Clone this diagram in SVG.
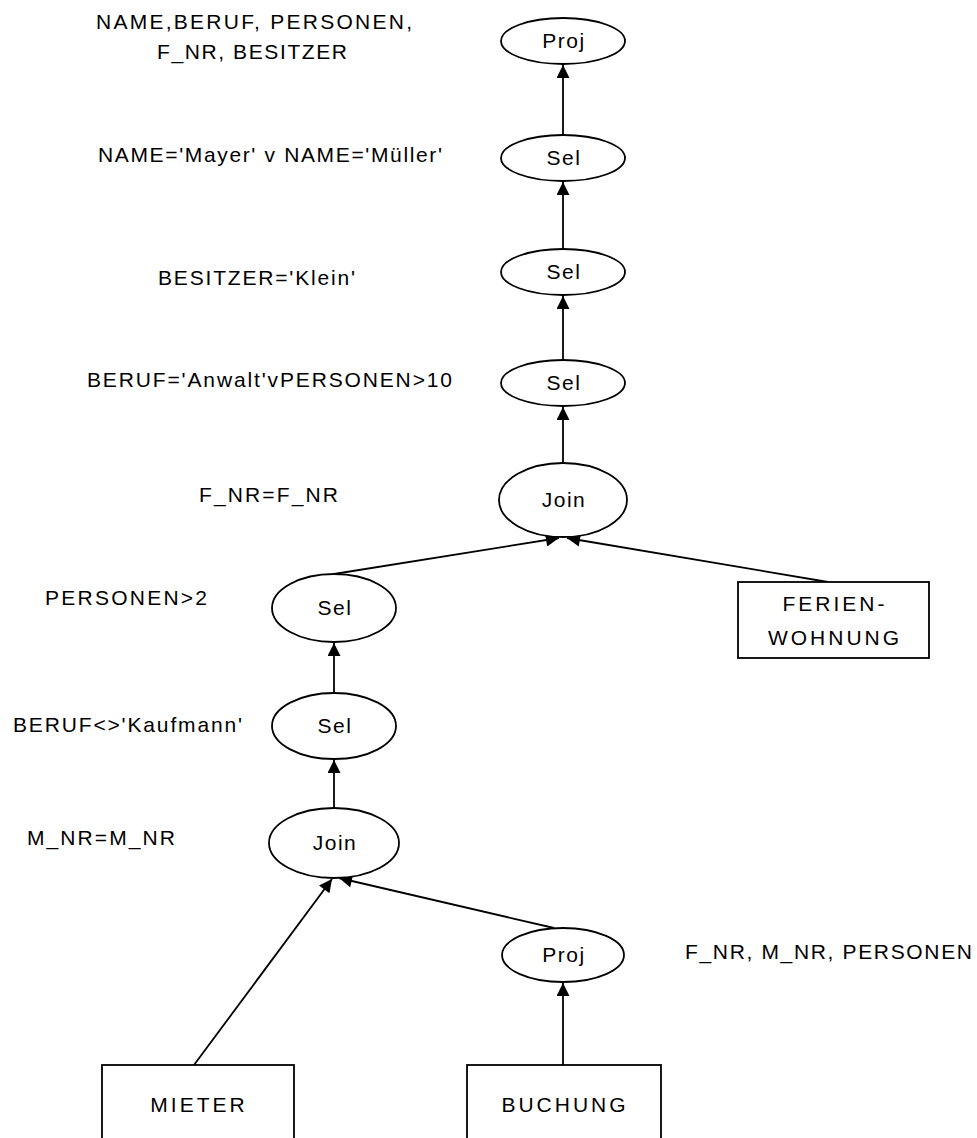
<svg xmlns="http://www.w3.org/2000/svg" width="977" height="1138" viewBox="0 0 977 1138">
<style>
.n{fill:#fff;stroke:#000;stroke-width:1.8}
.t{font-family:"Liberation Sans",Arial,sans-serif;font-size:21px;fill:#000}
.c{text-anchor:middle;letter-spacing:1.5px}
.b{text-anchor:middle;letter-spacing:3px}
.e{stroke:#000;stroke-width:1.8;fill:none;marker-end:url(#ah)}
</style>
<defs>
<marker id="ah" viewBox="0 0 10 10" refX="10" refY="5" markerWidth="16" markerHeight="13" markerUnits="userSpaceOnUse" orient="auto">
<path d="M0,0 L10,5 L0,10 z" fill="#000"/>
</marker>
</defs>
<rect width="977" height="1138" fill="#fff"/>
<g id="connectors">
<line class="e" x1="563" y1="135" x2="563" y2="65"/>
<line class="e" x1="563" y1="249" x2="563" y2="182"/>
<line class="e" x1="563" y1="360" x2="563" y2="296"/>
<line class="e" x1="563" y1="463" x2="563" y2="407"/>
<line class="e" x1="334" y1="574" x2="559" y2="538"/>
<line class="e" x1="828" y1="582" x2="567" y2="538"/>
<line class="e" x1="334" y1="693" x2="334" y2="643"/>
<line class="e" x1="334" y1="808" x2="334" y2="760"/>
<line class="e" x1="194" y1="1065" x2="332" y2="879"/>
<line class="e" x1="554" y1="928" x2="339" y2="878"/>
<line class="e" x1="563" y1="1065" x2="563" y2="983"/>
</g>
<g id="proj1"><ellipse class="n" cx="563" cy="41" rx="62" ry="23"/><text class="t c" x="564" y="48">Proj</text></g>
<g id="sel1"><ellipse class="n" cx="563" cy="158" rx="62" ry="23"/><text class="t c" x="564" y="165">Sel</text></g>
<g id="sel2"><ellipse class="n" cx="563" cy="272" rx="62" ry="23"/><text class="t c" x="564" y="279">Sel</text></g>
<g id="sel3"><ellipse class="n" cx="563" cy="383" rx="62" ry="23"/><text class="t c" x="564" y="390">Sel</text></g>
<g id="join1"><ellipse class="n" cx="563" cy="500" rx="64" ry="37"/><text class="t c" x="564" y="507">Join</text></g>
<g id="sel4"><ellipse class="n" cx="334" cy="608" rx="62" ry="34"/><text class="t c" x="335" y="615">Sel</text></g>
<g id="sel5"><ellipse class="n" cx="334" cy="726" rx="62" ry="33"/><text class="t c" x="335" y="733">Sel</text></g>
<g id="join2"><ellipse class="n" cx="334" cy="843" rx="65" ry="35"/><text class="t c" x="335" y="850">Join</text></g>
<g id="proj2"><ellipse class="n" cx="563" cy="955" rx="61" ry="27"/><text class="t c" x="564" y="962">Proj</text></g>
<g id="ferien"><rect class="n" x="738" y="582" width="191" height="76"/><text class="t b" x="835" y="611">FERIEN-</text><text class="t b" x="835" y="645">WOHNUNG</text></g>
<g id="mieter"><rect class="n" x="102" y="1065" width="192" height="80"/><text class="t b" x="199" y="1112">MIETER</text></g>
<g id="buchung"><rect class="n" x="467" y="1065" width="194" height="80"/><text class="t b" x="565" y="1112">BUCHUNG</text></g>
<g id="labels">
<text class="t" x="96" y="29" textLength="316" lengthAdjust="spacing">NAME,BERUF, PERSONEN,</text>
<text class="t" x="157" y="59" textLength="190" lengthAdjust="spacing">F_NR, BESITZER</text>
<text class="t" x="98" y="162" textLength="344" lengthAdjust="spacing">NAME='Mayer' v NAME='Müller'</text>
<text class="t" x="158" y="285" textLength="197" lengthAdjust="spacing">BESITZER='Klein'</text>
<text class="t" x="87" y="387" textLength="365" lengthAdjust="spacing">BERUF='Anwalt'vPERSONEN&gt;10</text>
<text class="t" x="199" y="502" textLength="139" lengthAdjust="spacing">F_NR=F_NR</text>
<text class="t" x="45" y="605" textLength="162" lengthAdjust="spacing">PERSONEN&gt;2</text>
<text class="t" x="13" y="732" textLength="229" lengthAdjust="spacing">BERUF&lt;&gt;'Kaufmann'</text>
<text class="t" x="27" y="845" textLength="148" lengthAdjust="spacing">M_NR=M_NR</text>
<text class="t" x="685" y="959" textLength="287" lengthAdjust="spacing">F_NR, M_NR, PERSONEN</text>
</g>
</svg>
